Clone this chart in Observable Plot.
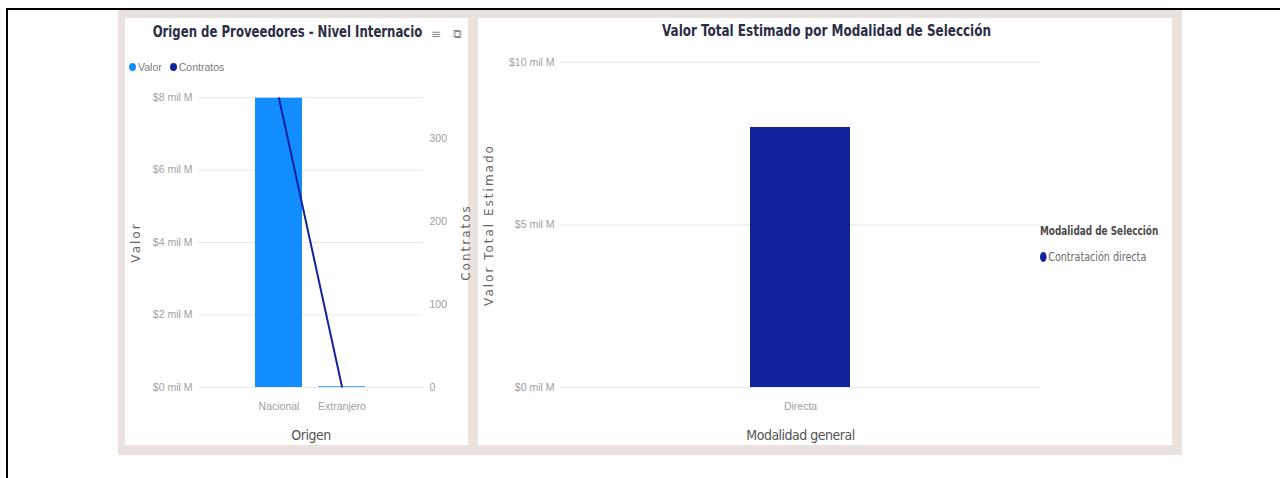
<!DOCTYPE html>
<html>
<head>
<meta charset="utf-8">
<script src="https://cdn.jsdelivr.net/npm/d3@7"></script>
<script src="https://cdn.jsdelivr.net/npm/@observablehq/plot@0.6"></script>
<style>
  html, body { margin: 0; padding: 0; background: #fff; }
  body { width: 1280px; height: 478px; position: relative; overflow: hidden; font-family: "Liberation Sans", Arial, sans-serif; }
  #frame { position: absolute; left: 6px; top: 8px; width: 1274px; height: 470px; border-top: 2px solid #000; border-left: 2px solid #000; box-sizing: border-box; }
  #back { position: absolute; left: 118px; top: 10px; width: 1064px; height: 445px; background: #e9e2df; }
  .panel { position: absolute; background: #fff; }
  #pl { left: 125px; top: 18px; width: 343px; height: 427px; }
  #pr { left: 478px; top: 18px; width: 694px; height: 427px; }
  .chart { position: absolute; left: 0; top: 0; }
  .title { position: absolute; font-family: "DejaVu Sans Condensed", "DejaVu Sans", sans-serif; font-weight: bold; font-size: 15.5px; color: #2b2e45; white-space: nowrap; text-align: center; line-height: 20px; transform-origin: center; }
  .icon { position: absolute; font-family: "DejaVu Sans", sans-serif; color: #8a8a8a; font-size: 12px; line-height: 16px; }
  .legend { position: absolute; display: flex; align-items: center; font-family: "Liberation Sans", sans-serif; font-size: 10.5px; color: #7a7a7a; white-space: nowrap; }
  .legend .dot { display: inline-block; width: 7px; height: 8px; border-radius: 50%; margin-right: 2px; }
  .legend .item { display: flex; align-items: center; margin-right: 8px; }
  .legTitle { font-family: "DejaVu Sans Condensed", sans-serif; font-weight: bold; font-size: 13px; color: #4a4a4a; position: absolute; white-space: nowrap; transform-origin: left center; transform: scaleX(0.76); }
  .legItem { font-family: "DejaVu Sans Condensed", sans-serif; font-size: 13px; color: #6a6a6a; position: absolute; white-space: nowrap; display: flex; align-items: center; transform-origin: left center; transform: scaleX(0.82); }
  .legItem .dot { display: inline-block; width: 8px; height: 10px; border-radius: 50%; margin-right: 2px; }
  g[aria-label="y-axis label"] text { font-family: "DejaVu Sans", sans-serif; font-size: 12px; fill: #666; letter-spacing: 2px; }
  g[aria-label="x-axis label"] text { font-family: "DejaVu Sans Condensed", sans-serif; font-size: 14px; fill: #555; letter-spacing: -0.5px; }
</style>
</head>
<body>
<div id="frame"></div>
<div id="back"></div>
<div class="panel" id="pl"></div>
<div class="panel" id="pr"></div>
<script>
// ---- Data ----
const origen = ["Nacional", "Extranjero"];
const valorMilM = [7.98, 0.02];           // valor en mil millones
const contratos = [349, 1];               // número de contratos
const valorTicks = [0, 2, 4, 6, 8];
const contratosTicks = [0, 100, 200, 300];
const legendLeft = ["Valor", "Contratos"];
const legendLeftColors = ["#118DFF", "#12239E"];

const modalidad = ["Directa"];
const valorModalidad = [8.0];
const valorModTicks = [0, 5, 10];
const modalidadSeleccion = ["Contratación directa"];
const modalidadColors = ["#12239E"];

const fmt = d => `$${d} mil M`;

// ---- Left chart ----
const pl = document.getElementById("pl");
const tl = document.createElement("div");
tl.className = "title";
tl.style.left = "0px"; tl.style.width = "325px"; tl.style.top = "4px";
tl.style.transform = "scaleX(0.84)";
tl.textContent = "Origen de Proveedores - Nivel Internacio";
pl.appendChild(tl);
[["≡", 306], ["⧉", 328]].forEach(([g, x]) => {
  const ic = document.createElement("div");
  ic.className = "icon";
  ic.style.left = x + "px"; ic.style.top = "8px";
  ic.textContent = g;
  pl.appendChild(ic);
});

const lg = document.createElement("div");
lg.className = "legend";
lg.style.left = "4px"; lg.style.top = "43px";
legendLeft.forEach((name, i) => {
  const it = document.createElement("span");
  it.className = "item";
  it.innerHTML = `<span class="dot" style="background:${legendLeftColors[i]}"></span>${name}`;
  lg.appendChild(it);
});
pl.appendChild(lg);

const dataO = origen.map((o, i) => ({origen: o, valor: valorMilM[i], contratos: contratos[i]}));
const k = d3.max(valorMilM) / d3.max(contratos);

const left = Plot.plot({
  width: 343, height: 427,
  marginTop: 79, marginBottom: 58, marginLeft: 73, marginRight: 45,
  style: {fontFamily: "Liberation Sans, sans-serif", fontSize: "10.5px", color: "#a0a0a0", background: "transparent", overflow: "visible"},
  x: {domain: origen, paddingInner: 0.25, paddingOuter: 0.883, axis: null},
  y: {domain: [0, 8], axis: null},
  marks: [
    Plot.gridY(valorTicks, {stroke: "#e9e9e9", strokeOpacity: 1}),
    Plot.axisY(valorTicks, {tickSize: 0, tickPadding: 6, tickFormat: fmt, label: "Valor", labelArrow: "none", labelAnchor: "center", labelOffset: 67}),
    Plot.axisY(contratosTicks.map(c => c * k), {anchor: "right", tickSize: 0, tickPadding: 6, tickFormat: d => String(Math.round(d / k)), label: "Contratos", labelArrow: "none", labelAnchor: "center", labelOffset: 46}),
    Plot.axisX({tickSize: 0, tickPadding: 15, label: "Origen", labelArrow: "none", labelAnchor: "center", labelOffset: 52}),
    Plot.barY(dataO, {x: "origen", y: "valor", fill: "#118DFF"}),
    Plot.line(dataO, {x: "origen", y: d => d.contratos * k, stroke: "#12239E", strokeWidth: 2})
  ]
});
left.classList.add("chart");
pl.appendChild(left);

// ---- Right chart ----
const pr = document.getElementById("pr");
const tr = document.createElement("div");
tr.className = "title";
tr.style.left = "0px"; tr.style.width = "697px"; tr.style.top = "3px";
tr.style.transform = "scaleX(0.86)";
tr.textContent = "Valor Total Estimado por Modalidad de Selección";
pr.appendChild(tr);

const dataM = modalidad.map((m, i) => ({modalidad: m, valor: valorModalidad[i]}));
const right = Plot.plot({
  width: 694, height: 427,
  marginTop: 44, marginBottom: 58, marginLeft: 82, marginRight: 132,
  style: {fontFamily: "Liberation Sans, sans-serif", fontSize: "10.5px", color: "#a0a0a0", background: "transparent", overflow: "visible"},
  x: {domain: modalidad, paddingInner: 0.2, paddingOuter: 1.52, axis: null},
  y: {domain: [0, 10], axis: null},
  marks: [
    Plot.gridY(valorModTicks, {stroke: "#e9e9e9", strokeOpacity: 1}),
    Plot.axisY(valorModTicks, {tickSize: 0, tickPadding: 6, tickFormat: fmt, label: "Valor Total Estimado", labelArrow: "none", labelAnchor: "center", labelOffset: 76}),
    Plot.axisX({tickSize: 0, tickPadding: 15, label: "Modalidad general", labelArrow: "none", labelAnchor: "center", labelOffset: 52}),
    Plot.barY(dataM, {x: "modalidad", y: "valor", fill: "#12239E"})
  ]
});
right.classList.add("chart");
pr.appendChild(right);

const lt = document.createElement("div");
lt.className = "legTitle";
lt.style.left = "562px"; lt.style.top = "205px";
lt.textContent = "Modalidad de Selección";
pr.appendChild(lt);
modalidadSeleccion.forEach((name, i) => {
  const li = document.createElement("div");
  li.className = "legItem";
  li.style.left = "562px"; li.style.top = `${231 + i * 20}px`;
  li.innerHTML = `<span class="dot" style="background:${modalidadColors[i]}"></span>${name}`;
  pr.appendChild(li);
});
</script>
</body>
</html>
